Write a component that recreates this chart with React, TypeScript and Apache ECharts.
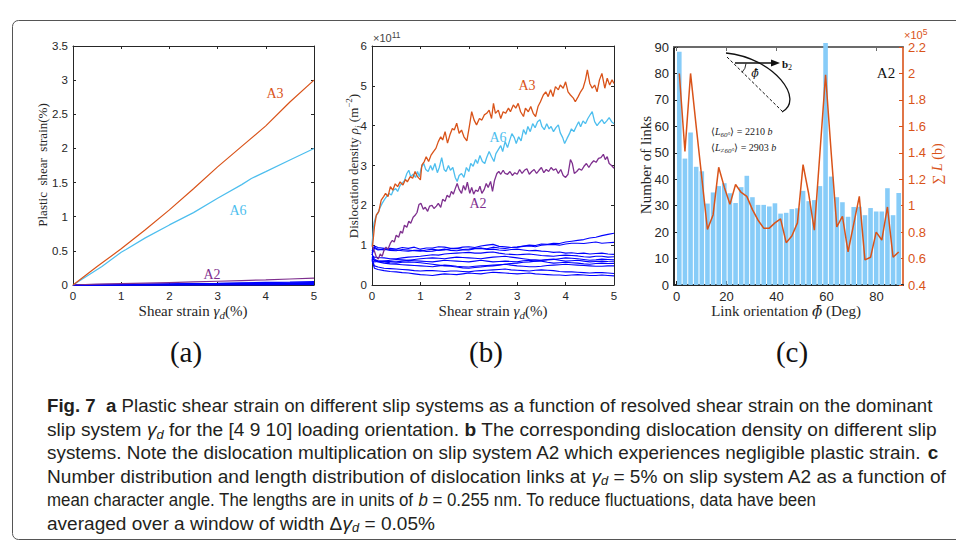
import React, { useEffect, useRef } from 'react';
import * as echarts from 'echarts';

// ---------- Panel (a): plastic shear strain ----------
const aX = [0, 0.5, 1, 1.5, 2, 2.5, 3, 3.5, 4, 4.5, 5];
const aA3 = [0, 0.27, 0.53, 0.81, 1.1, 1.41, 1.73, 2.03, 2.33, 2.68, 3.0];
const aA6X = [0, 0.6, 1, 1.1, 1.5, 2, 2.5, 3, 3.5, 3.7, 4, 4.5, 5];
const aA6 = [0, 0.27, 0.48, 0.52, 0.69, 0.88, 1.06, 1.27, 1.47, 1.56, 1.66, 1.83, 2.0];
const aA2 = [0, 0.012, 0.02, 0.027, 0.035, 0.045, 0.055, 0.065, 0.075, 0.088, 0.1];
const aBlue1 = [0, 0.004, 0.008, 0.012, 0.016, 0.02, 0.024, 0.03, 0.036, 0.042, 0.05];
const aBlue2 = [0, 0.003, 0.006, 0.009, 0.012, 0.015, 0.018, 0.022, 0.026, 0.03, 0.035];
const aBlue3 = [0, 0.002, 0.004, 0.006, 0.008, 0.01, 0.012, 0.015, 0.018, 0.021, 0.025];
const aBlue4 = [0, 0.002, 0.003, 0.004, 0.006, 0.007, 0.009, 0.01, 0.012, 0.014, 0.016];
const aBlue5 = [0, 0.001, 0.002, 0.003, 0.004, 0.005, 0.006, 0.007, 0.008, 0.009, 0.01];
const aBlue6 = [0, 0.001, 0.001, 0.002, 0.002, 0.003, 0.003, 0.004, 0.004, 0.005, 0.005];

// ---------- Panel (b): dislocation density (x1e11 m^-2) ----------
const bA3X = [0.01,0.05,0.09,0.14,0.19,0.24,0.28,0.33,0.38,0.43,0.48,0.53,0.58,0.64,0.69,0.73,0.79,0.84,0.89,0.94,1.0,1.03,1.08,1.12,1.17,1.22,1.27,1.32,1.37,1.42,1.46,1.51,1.56,1.61,1.66,1.70,1.75,1.80,1.85,1.90,1.96,2.01,2.06,2.11,2.16,2.22,2.27,2.32,2.37,2.42,2.47,2.51,2.55,2.61,2.66,2.71,2.76,2.82,2.86,2.92,2.97,3.02,3.07,3.13,3.17,3.23,3.28,3.33,3.38,3.43,3.48,3.54,3.59,3.64,3.69,3.74,3.79,3.85,3.89,3.95,4.0,4.05,4.10,4.16,4.20,4.26,4.31,4.36,4.41,4.45,4.50,4.55,4.60,4.65,4.70,4.75,4.81,4.86,4.91,4.96,5.0];
const bA3Y = [0.96,1.46,1.76,1.84,2.13,2.22,2.30,2.22,2.47,2.38,2.54,2.47,2.59,2.51,2.65,2.59,2.72,2.68,2.85,2.72,2.64,3.01,3.10,3.22,3.10,3.26,3.35,3.43,3.60,3.72,3.64,3.85,3.56,3.77,3.93,3.89,4.06,3.81,3.89,3.72,3.62,3.97,4.35,4.14,4.02,4.18,4.14,4.27,4.31,4.39,4.18,4.56,4.31,4.39,4.18,4.35,4.31,4.44,4.35,4.52,4.44,4.56,4.35,4.23,4.44,4.35,4.48,4.31,4.23,4.48,4.60,4.77,4.85,4.73,4.90,4.73,4.98,4.90,5.02,4.94,5.10,4.85,4.77,4.69,4.60,4.73,4.85,4.94,5.15,5.40,5.06,4.94,5.02,4.85,5.15,5.31,4.94,5.19,5.02,5.15,5.06];
const bA6X = [0,0.04,0.08,0.12,0.17,0.21,0.26,0.30,0.35,0.40,0.44,0.49,0.53,0.58,0.62,0.67,0.72,0.76,0.80,0.85,0.90,0.94,0.98,1.02,1.07,1.11,1.16,1.21,1.25,1.30,1.35,1.39,1.44,1.49,1.53,1.58,1.62,1.67,1.72,1.76,1.80,1.85,1.90,1.95,2.0,2.04,2.09,2.14,2.18,2.23,2.28,2.33,2.37,2.42,2.47,2.52,2.56,2.61,2.66,2.70,2.75,2.80,2.85,2.89,2.94,2.98,3.03,3.08,3.13,3.18,3.22,3.27,3.32,3.37,3.42,3.47,3.51,3.56,3.61,3.66,3.70,3.75,3.80,3.85,3.89,3.94,3.98,4.03,4.08,4.12,4.17,4.22,4.27,4.31,4.36,4.41,4.46,4.51,4.55,4.60,4.65,4.70,4.75,4.80,4.85,4.90,4.95,5.0];
const bA6Y = [1.0,1.55,1.72,1.80,1.95,2.05,2.15,2.22,2.30,2.26,2.38,2.42,2.35,2.50,2.55,2.62,2.80,2.88,2.72,2.78,2.70,2.85,2.72,2.95,3.05,2.90,2.85,3.00,2.88,3.05,2.82,2.95,3.20,2.90,2.85,3.00,2.88,2.95,2.70,2.60,2.75,2.80,2.70,2.95,2.85,3.05,2.98,3.15,3.05,3.25,3.10,3.05,3.20,3.35,3.22,3.10,3.30,3.40,3.50,3.35,3.60,3.45,3.65,3.80,3.70,3.55,3.72,3.62,3.90,3.78,3.98,3.85,4.05,3.95,4.10,4.15,3.98,3.90,4.05,3.92,3.98,3.85,3.95,4.02,3.82,3.70,3.55,3.68,3.80,3.92,3.85,3.98,4.10,3.97,4.12,4.05,4.18,4.28,4.35,4.10,4.00,4.08,4.15,4.05,4.12,4.20,4.10,4.05];
const bA2X = [0,0.05,0.09,0.13,0.17,0.21,0.25,0.29,0.33,0.38,0.42,0.46,0.50,0.55,0.59,0.63,0.67,0.72,0.76,0.80,0.85,0.89,0.93,0.97,1.01,1.06,1.10,1.15,1.19,1.24,1.28,1.33,1.37,1.42,1.46,1.51,1.55,1.60,1.64,1.68,1.72,1.76,1.80,1.85,1.89,1.93,1.97,2.02,2.06,2.10,2.14,2.19,2.23,2.27,2.32,2.36,2.40,2.45,2.49,2.53,2.58,2.62,2.66,2.71,2.75,2.80,2.85,2.90,2.95,3.0,3.05,3.10,3.15,3.20,3.25,3.30,3.35,3.40,3.45,3.50,3.55,3.60,3.65,3.70,3.75,3.80,3.85,3.90,3.95,4.0,4.05,4.10,4.14,4.18,4.23,4.28,4.33,4.38,4.43,4.48,4.53,4.58,4.63,4.68,4.73,4.78,4.82,4.86,4.90,4.95,5.0];
const bA2Y = [1.0,0.85,0.70,0.65,0.78,0.72,0.88,0.95,0.90,1.05,1.12,1.08,1.25,1.20,1.35,1.30,1.50,1.45,1.60,1.55,1.70,1.75,1.82,2.02,2.05,1.90,1.95,1.85,1.98,2.00,1.92,1.98,2.05,1.95,2.15,2.10,2.25,2.20,2.35,2.28,2.42,2.55,2.40,2.30,2.50,2.38,2.58,2.30,2.45,2.28,2.38,2.35,2.48,2.30,2.40,2.55,2.45,2.60,2.35,2.62,2.80,2.85,2.78,2.88,2.80,2.78,2.85,2.75,2.82,2.78,2.90,2.80,2.88,2.92,2.78,2.85,2.90,2.80,2.88,2.95,2.82,2.90,2.85,2.95,2.88,2.92,2.80,2.90,2.75,2.70,2.78,3.15,3.05,2.80,2.85,2.92,2.88,2.98,3.05,2.95,3.05,3.12,3.08,3.18,3.20,3.28,3.15,3.22,3.05,3.00,2.93];
const bBlueX = [0,0.05,0.125,0.25,0.375,0.5,0.625,0.75,0.875,1,1.125,1.25,1.375,1.5,1.625,1.75,1.875,2,2.125,2.25,2.375,2.5,2.625,2.75,2.875,3,3.125,3.25,3.375,3.5,3.625,3.75,3.875,4,4.125,4.25,4.375,4.5,4.625,4.75,4.875,5];
const bBlue = [
  [0.75,0.95,0.90,0.88,0.92,0.90,0.94,0.92,0.95,0.90,0.93,0.93,0.96,0.95,0.92,0.92,0.95,0.96,0.94,0.98,1.00,1.02,0.97,0.96,0.94,0.95,0.98,1.00,0.99,1.03,1.02,1.05,1.04,1.08,1.10,1.12,1.14,1.18,1.20,1.24,1.27,1.30],
  [0.80,0.92,0.88,0.90,0.87,0.86,0.89,0.88,0.86,0.85,0.88,0.90,0.87,0.88,0.91,0.92,0.89,0.90,0.92,0.93,0.91,0.95,0.93,0.92,0.94,0.95,0.97,0.98,0.96,1.00,1.01,1.02,1.00,1.03,1.05,1.05,1.04,1.06,1.08,1.05,1.06,1.07],
  [0.85,0.98,0.94,0.92,0.89,0.88,0.86,0.85,0.87,0.87,0.84,0.85,0.88,0.90,0.87,0.86,0.88,0.88,0.91,0.92,0.89,0.90,0.88,0.87,0.89,0.90,0.88,0.86,0.87,0.85,0.84,0.82,0.83,0.80,0.81,0.79,0.80,0.78,0.79,0.80,0.78,0.77],
  [0.72,0.70,0.69,0.68,0.66,0.66,0.68,0.70,0.71,0.72,0.74,0.76,0.75,0.78,0.79,0.80,0.81,0.82,0.80,0.80,0.82,0.83,0.80,0.78,0.77,0.76,0.77,0.78,0.76,0.74,0.73,0.72,0.74,0.75,0.74,0.73,0.71,0.70,0.72,0.72,0.70,0.71],
  [0.68,0.62,0.61,0.60,0.62,0.64,0.63,0.62,0.64,0.66,0.67,0.68,0.67,0.66,0.68,0.70,0.69,0.68,0.67,0.66,0.68,0.70,0.71,0.72,0.70,0.68,0.66,0.64,0.63,0.62,0.64,0.65,0.62,0.60,0.61,0.62,0.60,0.58,0.59,0.60,0.59,0.585],
  [0.62,0.58,0.59,0.60,0.59,0.58,0.60,0.62,0.61,0.60,0.59,0.58,0.60,0.62,0.61,0.60,0.59,0.58,0.60,0.62,0.60,0.58,0.59,0.60,0.59,0.58,0.61,0.62,0.60,0.60,0.57,0.55,0.56,0.57,0.56,0.55,0.53,0.52,0.54,0.55,0.54,0.54],
  [0.70,0.62,0.58,0.55,0.53,0.52,0.51,0.50,0.49,0.48,0.47,0.46,0.48,0.50,0.49,0.47,0.46,0.45,0.47,0.48,0.49,0.50,0.51,0.52,0.50,0.48,0.47,0.46,0.46,0.47,0.49,0.50,0.51,0.52,0.51,0.50,0.49,0.48,0.47,0.47,0.48,0.48],
  [0.66,0.48,0.45,0.42,0.41,0.40,0.39,0.38,0.36,0.35,0.36,0.36,0.35,0.34,0.35,0.35,0.34,0.33,0.35,0.36,0.37,0.38,0.39,0.40,0.38,0.37,0.36,0.35,0.37,0.38,0.37,0.36,0.34,0.33,0.33,0.32,0.31,0.30,0.31,0.31,0.30,0.29],
  [0.62,0.42,0.39,0.36,0.34,0.33,0.31,0.30,0.28,0.26,0.25,0.24,0.26,0.28,0.27,0.26,0.28,0.30,0.29,0.28,0.30,0.32,0.31,0.30,0.29,0.28,0.29,0.30,0.28,0.27,0.26,0.25,0.25,0.24,0.25,0.26,0.25,0.24,0.24,0.25,0.24,0.23],
  [0.78,0.65,0.60,0.58,0.56,0.55,0.57,0.58,0.57,0.56,0.54,0.52,0.50,0.48,0.47,0.45,0.43,0.42,0.44,0.45,0.47,0.48,0.50,0.52,0.54,0.55,0.57,0.58,0.60,0.62,0.63,0.64,0.66,0.68,0.67,0.66,0.64,0.62,0.63,0.65,0.64,0.63],
];

// ---------- Panel (c): link orientation histogram ----------
const cBins = [1.125,3.375,5.625,7.875,10.125,12.375,14.625,16.875,19.125,21.375,23.625,25.875,28.125,30.375,32.625,34.875,37.125,39.375,41.625,43.875,46.125,48.375,50.625,52.875,55.125,57.375,59.625,61.875,64.125,66.375,68.625,70.875,73.125,75.375,77.625,79.875,82.125,84.375,86.625,88.875];
const cCounts = [88.2,47.8,57.7,44.7,43.0,30.8,35.0,37.4,38.5,34.7,31.0,37.0,41.3,33.2,30.3,30.3,29.7,30.9,27.0,27.3,28.7,29.0,35.6,31.7,32.1,37.4,91.5,41.0,33.2,31.3,25.8,29.5,29.6,26.4,29.1,27.8,27.8,36.6,26.4,34.8];
const cLength = [2.0,1.41,2.0,1.6,1.21,0.82,0.93,1.29,1.14,1.01,1.16,1.10,1.07,0.97,0.89,0.83,0.83,0.87,0.90,0.72,0.77,0.87,1.31,1.09,0.815,1.40,1.99,1.40,0.84,0.92,0.65,0.86,1.07,0.59,0.61,0.80,0.74,0.99,0.61,0.65];
const cXTicks = [0, 20, 40, 60, 80];

const ORANGE = '#D95319';
const LBLUE = '#4DBEEE';
const PURPLE = '#7E2F8E';
const BLUE = '#0000FF';
const BAR = '#87CCF8';
const AX = '#262626';
const SERIF = '"Liberation Serif", "Times New Roman", serif';
const SANS = '"Liberation Sans", Arial, sans-serif';

const zip = (xs: number[], ys: number[]) => xs.slice(0, ys.length).map((x, i) => [x, ys[i]]);

function line(xi: number, yi: number, data: number[][], color: string, width = 1.2, z = 2) {
  return { type: 'line', xAxisIndex: xi, yAxisIndex: yi, data, symbol: 'none', showSymbol: false, z,
    lineStyle: { color, width }, itemStyle: { color }, silent: true, animation: false };
}

function boxAxes(grid: number, kind: 'x' | 'y', min: number, max: number, interval: number | null, opts: any = {}) {
  const lw = opts.lw ?? 1;
  const color = opts.color ?? AX;
  const base: any = {
    gridIndex: grid, type: 'value', min, max,
    splitLine: { show: false },
    axisLine: { show: true, onZero: false, lineStyle: { color, width: lw } },
    axisTick: { show: true, inside: true, length: opts.tickLen ?? 3, lineStyle: { color, width: 1 } },
    axisLabel: { show: true, color: opts.labelColor ?? AX, fontSize: opts.fontSize ?? 11.5, fontFamily: SANS, margin: opts.margin ?? 5 },
  };
  if (interval != null) base.interval = interval;
  if (opts.custom) {
    base.axisTick.customValues = opts.custom;
    base.axisLabel.customValues = opts.custom;
  }
  const main = { ...base, position: kind === 'x' ? 'bottom' : 'left' };
  const otherColor = opts.otherColor ?? color;
  const other = {
    ...base, position: kind === 'x' ? 'top' : 'right',
    axisLine: { show: true, onZero: false, lineStyle: { color: otherColor, width: opts.otherLw ?? lw } },
    axisTick: { ...base.axisTick, lineStyle: { color: otherColor, width: 1 } },
    axisLabel: { show: false },
  };
  return [main, other];
}

function rtext(x: number, y: number, text: string, rich: any, opts: any = {}) {
  return {
    type: 'text', x, y, rotation: opts.rotation ?? 0, silent: true, z: 100,
    scaleX: opts.scaleX ?? 1,
    style: {
      text, fill: opts.fill ?? AX, fontFamily: opts.fontFamily ?? SERIF, fontSize: opts.fontSize ?? 13,
      align: opts.align ?? 'center', verticalAlign: 'middle', rich,
    },
  };
}

function serifRich(fs: number, color: string, lh = 18) {
  const small = Math.round(fs * 0.7);
  return {
    n: { fontSize: fs, fontFamily: SERIF, fill: color, lineHeight: lh },
    i: { fontSize: fs, fontFamily: SERIF, fill: color, fontStyle: 'italic', lineHeight: lh },
    f: { fontSize: fs, fontFamily: '"DejaVu Serif", serif', fill: color, fontStyle: 'italic', lineHeight: lh },
    s: { fontFamily: SERIF, fill: color, fontSize: small, fontStyle: 'italic', lineHeight: Math.round(small * 0.9), verticalAlign: 'bottom' },
    p: { fontFamily: SERIF, fill: color, fontSize: small, lineHeight: Math.round(small * 0.9), verticalAlign: 'top' },
  };
}

const CAPF = 18.5;
const capRich = {
  n: { fontSize: CAPF, fontFamily: SANS, fill: '#231f20', lineHeight: 22 },
  b: { fontSize: CAPF, fontFamily: SANS, fill: '#231f20', fontWeight: 'bold', lineHeight: 22 },
  i: { fontSize: CAPF, fontFamily: SANS, fill: '#231f20', fontStyle: 'italic', lineHeight: 22 },
  s: { fontSize: 12.5, fontFamily: SANS, fill: '#231f20', fontStyle: 'italic', lineHeight: 12, verticalAlign: 'bottom' },
};

const captionLines = [
  '{b|Fig. 7}{n|  }{b|a}{n| Plastic shear strain on different slip systems as a function of resolved shear strain on the dominant}',
  '{n|slip system }{i|γ}{s|d}{n| for the [4 9 10] loading orientation. }{b|b}{n| The corresponding dislocation density on different slip}',
  '{n|systems. Note the dislocation multiplication on slip system A2 which experiences negligible plastic strain. }{b|c}',
  '{n|Number distribution and length distribution of dislocation links at }{i|γ}{s|d}{n| = 5% on slip system A2 as a function of}',
  '{n|mean character angle. The lengths are in units of }{i|b}{n| = 0.255 nm. To reduce fluctuations, data have been}',
  '{n|averaged over a window of width Δ}{i|γ}{s|d}{n| = 0.05%}',
];
const captionY = [406, 430, 453, 477, 500, 524];
const captionScale = [1.008, 1.034, 1.022, 1.032, 0.912, 1.03];

export default function App() {
  const ref = useRef<HTMLDivElement>(null);
  useEffect(() => {
    const chart = echarts.init(ref.current!, null, { renderer: 'svg' });
    const [ax0, ax1] = boxAxes(0, 'x', 0, 5, 1);
    const [ay0, ay1] = boxAxes(0, 'y', 0, 3.5, 0.5);
    const [bx0, bx1] = boxAxes(1, 'x', 0, 5, 1);
    const [by0, by1] = boxAxes(1, 'y', 0, 6, 1);
    const [cx0, cx1] = boxAxes(2, 'x', -1, 90.6, null, { custom: cXTicks, lw: 2, fontSize: 13, otherColor: '#6b6b6b', otherLw: 2, tickLen: 4 });
    const [cy0] = boxAxes(2, 'y', 0, 90, 10, { lw: 2, fontSize: 13, tickLen: 4 });
    const cy1 = {
      gridIndex: 2, type: 'value', min: 0.4, max: 2.2, interval: 0.2, position: 'right',
      splitLine: { show: false },
      axisLine: { show: true, onZero: false, lineStyle: { color: ORANGE, width: 1.6 } },
      axisTick: { show: true, inside: true, length: 4, lineStyle: { color: ORANGE } },
      axisLabel: { color: ORANGE, fontSize: 13, fontFamily: SANS, margin: 5,
        formatter: (v: number) => String(Math.round(v * 10) / 10) },
    };

    const series: any[] = [];
    [aBlue1, aBlue2, aBlue3, aBlue4, aBlue5, aBlue6].forEach((ys) => series.push(line(0, 0, zip(aX, ys), BLUE, 1.4)));
    series.push(line(0, 0, zip(aX, aA2), PURPLE, 1.2, 3));
    series.push(line(0, 0, zip(aA6X, aA6), LBLUE, 1.2, 3));
    series.push(line(0, 0, zip(aX, aA3), ORANGE, 1.2, 3));
    bBlue.forEach((ys) => series.push(line(2, 2, zip(bBlueX, ys), BLUE, 1.1)));
    series.push(line(2, 2, zip(bA2X, bA2Y), PURPLE, 1.3, 3));
    series.push(line(2, 2, zip(bA6X, bA6Y), LBLUE, 1.3, 3));
    series.push(line(2, 2, zip(bA3X, bA3Y), ORANGE, 1.3, 4));
    series.push({ type: 'bar', xAxisIndex: 4, yAxisIndex: 4, data: zip(cBins, cCounts), barWidth: 4.6, clip: false,
      itemStyle: { color: BAR }, silent: true, z: 2 });
    series.push(line(4, 5, zip(cBins, cLength), ORANGE, 1.5, 3));

    const graphic: any[] = [
      { type: 'rect', silent: true, z: -1, shape: { x: 12.5, y: 20.5, width: 980, height: 519, r: 6 },
        style: { fill: 'none', stroke: '#555', lineWidth: 1 } },
      rtext(193, 311, '{n|Shear strain }{i|γ}{s|d}{n|(%)}', serifRich(15, AX)),
      rtext(42, 165, '{n|Plastic  shear  strain(%)}', serifRich(13, AX), { rotation: Math.PI / 2 }),
      rtext(493, 311, '{n|Shear strain }{i|γ}{s|d}{n|(%)}', serifRich(15, AX)),
      rtext(353, 166, '{n|Dislocation density }{i|ρ}{s|i}{n| (m}{p|−2}{n|)}', serifRich(13, AX), { rotation: Math.PI / 2 }),
      rtext(373, 38, '{n|×10}{p|11}', {
        n: { fontSize: 11, fontFamily: SANS, fill: '#444', lineHeight: 16 },
        p: { fontSize: 8.5, fontFamily: SANS, fill: '#444', lineHeight: 8, verticalAlign: 'top' },
      }, { align: 'left' }),
      rtext(786, 311, '{n|Link orientation }{f|ϕ̄}{n| (Deg)}', serifRich(15, AX)),
      rtext(646, 165, '{n|Number of links}', serifRich(15, AX), { rotation: Math.PI / 2 }),
      rtext(937, 164, '{n|∑ }{i|L}{n| (b)}', serifRich(14, ORANGE), { rotation: Math.PI / 2 }),
      rtext(904, 35, '{n|×10}{p|5}', {
        n: { fontSize: 11, fontFamily: SANS, fill: ORANGE, lineHeight: 16 },
        p: { fontSize: 8.5, fontFamily: SANS, fill: ORANGE, lineHeight: 8, verticalAlign: 'top' },
      }, { align: 'left' }),
      rtext(886, 73, '{n|A2}', serifRich(15, '#111')),
      rtext(711, 131, '{n|⟨}{i|L}{s|60°}{n|⟩ = 2210 }{i|b}', serifRich(10, '#222', 14), { align: 'left' }),
      rtext(711, 147, '{n|⟨}{i|L}{s|≠60°}{n|⟩ = 2903 }{i|b}', serifRich(10, '#222', 14), { align: 'left' }),
      { type: 'bezierCurve', silent: true, z: 100, shape: { x1: 726, y1: 53, cpx1: 775, cpy1: 58, cpx2: 805, cpy2: 100, x2: 782, y2: 112 },
        style: { stroke: '#111', lineWidth: 1.3, fill: 'none' } },
      { type: 'line', silent: true, z: 100, shape: { x1: 727, y1: 57, x2: 783, y2: 112 },
        style: { stroke: '#111', lineWidth: 1, lineDash: [3, 2] } },
      { type: 'line', silent: true, z: 100, shape: { x1: 735, y1: 63, x2: 773, y2: 63 },
        style: { stroke: '#111', lineWidth: 1.3 } },
      { type: 'polygon', silent: true, z: 100, shape: { points: [[780, 63], [771, 59.5], [771, 66.5]] },
        style: { fill: '#111' } },
      { type: 'arc', silent: true, z: 100, shape: { cx: 733, cy: 63, r: 13, startAngle: 0.05, endAngle: 0.8, clockwise: true },
        style: { stroke: '#111', lineWidth: 0.9, fill: 'none' } },
      rtext(782, 64, '{b|b}{s|2}', {
        b: { fontSize: 11, fontFamily: SERIF, fontWeight: 'bold', fill: '#111', lineHeight: 14 },
        s: { fontSize: 8, fontFamily: SERIF, fill: '#111', lineHeight: 8, verticalAlign: 'bottom' },
      }, { align: 'left' }),
      rtext(755, 73, '{f|ϕ̄}', serifRich(11, '#111', 14)),
      rtext(275, 93, '{n|A3}', serifRich(14, ORANGE)),
      rtext(238, 210, '{n|A6}', serifRich(14, LBLUE)),
      rtext(212, 274, '{n|A2}', serifRich(14, PURPLE)),
      rtext(527, 85, '{n|A3}', serifRich(14, ORANGE)),
      rtext(498, 137, '{n|A6}', serifRich(14, LBLUE)),
      rtext(478, 203, '{n|A2}', serifRich(14, PURPLE)),
      rtext(186, 352, '{n|(a)}', { n: { fontSize: 29, fontFamily: SERIF, fill: '#111' } }),
      rtext(486, 352, '{n|(b)}', { n: { fontSize: 29, fontFamily: SERIF, fill: '#111' } }),
      rtext(792, 352, '{n|(c)}', { n: { fontSize: 29, fontFamily: SERIF, fill: '#111' } }),
    ];
    captionLines.forEach((t, i) => graphic.push(rtext(47, captionY[i], t, capRich, { align: 'left', scaleX: captionScale[i] })));

    chart.setOption({
      animation: false,
      backgroundColor: '#ffffff',
      grid: [
        { left: 73, top: 46, width: 241, height: 239 },
        { left: 372, top: 46, width: 242, height: 239 },
        { left: 674, top: 47, width: 229, height: 238 },
      ],
      xAxis: [ax0, ax1, bx0, bx1, cx0, cx1],
      yAxis: [ay0, ay1, by0, by1, cy0, cy1],
      series,
      graphic,
    });
    return () => chart.dispose();
  }, []);
  return <div ref={ref} style={{ position: 'fixed', left: 0, top: 0, width: 956, height: 542 }} />;
}
